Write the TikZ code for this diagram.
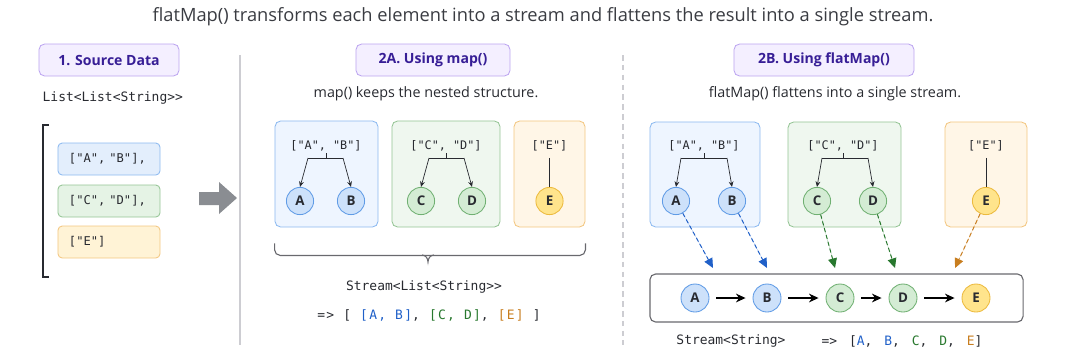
\documentclass[tikz,border=0pt]{standalone}
\usepackage{fontspec}
\setsansfont{Open Sans}
\setmonofont{DejaVu Sans Mono}
\newfontfamily\widemono{DejaVu Sans Mono}[LetterSpace=32]
\newfontfamily\semimono{DejaVu Sans Mono}[LetterSpace=10]
\usepackage{tikz}
\usetikzlibrary{shapes,arrows.meta,positioning,calc}
\definecolor{lblfill}{RGB}{244,239,255}
\definecolor{lbldraw}{RGB}{188,165,240}
\definecolor{lbltext}{RGB}{55,30,150}
\definecolor{inkdark}{RGB}{40,42,48}
\definecolor{titleink}{RGB}{58,60,66}
\definecolor{sepgray}{RGB}{205,205,210}
\definecolor{arrowgray}{RGB}{138,141,146}
\definecolor{framegray}{RGB}{105,105,110}
\definecolor{bluefill}{RGB}{238,245,255}
\definecolor{bluedraw}{RGB}{140,185,240}
\definecolor{bluesrc}{RGB}{227,238,252}
\definecolor{blueball}{RGB}{205,225,250}
\definecolor{blueballdraw}{RGB}{95,155,230}
\definecolor{greenfill}{RGB}{239,247,239}
\definecolor{greendraw}{RGB}{148,196,148}
\definecolor{greensrc}{RGB}{229,243,229}
\definecolor{greenball}{RGB}{212,236,212}
\definecolor{greenballdraw}{RGB}{112,176,114}
\definecolor{orangefill}{RGB}{255,246,231}
\definecolor{orangedraw}{RGB}{243,198,128}
\definecolor{orangesrc}{RGB}{255,243,214}
\definecolor{orangeball}{RGB}{255,228,140}
\definecolor{orangeballdraw}{RGB}{236,186,62}
\definecolor{codeblue}{RGB}{32,96,200}
\definecolor{codegreen}{RGB}{40,120,46}
\definecolor{codeorange}{RGB}{200,126,32}
\tikzset{
  lbl/.style={draw=lbldraw,fill=lblfill,rounded corners=4pt,line width=0.6pt,
              text=lbltext,font=\sffamily\bfseries\fontsize{10}{12}\selectfont,
              minimum height=0.8cm},
  remark/.style={font=\sffamily\fontsize{10.2}{12}\selectfont,text=inkdark},
  codetxt/.style={font=\ttfamily\fontsize{9.2}{11}\selectfont,text=inkdark,inner sep=1pt},
  srcbox/.style={draw,rounded corners=3pt,line width=0.6pt,
                 font=\ttfamily\fontsize{8.6}{10}\selectfont,text=inkdark,
                 text width=2.0cm,align=left,inner xsep=0.275cm,minimum height=0.8cm},
  grp/.style={draw,rounded corners=4pt,line width=0.6pt,minimum height=2.65cm},
  grptxt/.style={font=\ttfamily\fontsize{8.4}{10}\selectfont,text=inkdark,inner sep=1pt},
  ball/.style={circle,draw,line width=0.6pt,inner sep=0pt,minimum size=0.68cm,
               font=\sffamily\bfseries\fontsize{9.5}{10}\selectfont,text=inkdark},
  bA/.style={ball,fill=blueball,draw=blueballdraw},
  bC/.style={ball,fill=greenball,draw=greenballdraw},
  bE/.style={ball,fill=orangeball,draw=orangeballdraw},
  branch/.style={draw=inkdark,line width=0.5pt},
  brancharr/.style={branch,-{Stealth[length=1.4mm,width=1.2mm]}},
  flow/.style={-{Stealth[length=2.4mm,width=2.2mm]},line width=0.9pt,draw=black,
               shorten <=5pt,shorten >=5pt},
  feed/.style={dash pattern=on 3pt off 2pt,line width=0.7pt,
               -{Triangle[length=2.4mm,width=2.2mm]}},
}

\begin{document}
\begin{tikzpicture}[x=0.025cm,y=-0.025cm]
  \useasboundingbox (0,0) rectangle (1075,357);

  \node[font=\sffamily\fontsize{13}{15}\selectfont,text=titleink]
       (title) at (543,17)
       {flatMap() transforms each element into a stream and flattens the result into a single stream.};

  % separators
  \coordinate (s1top) at (240,55);
  \coordinate (s1bot) at (240,345);
  \coordinate (s2top) at (623,55);
  \coordinate (s2bot) at (623,345);
  \draw[sepgray,line width=1.2pt] (s1top) -- (s1bot);
  \draw[sepgray,line width=0.8pt,dash pattern=on 4pt off 3pt] (s2top) -- (s2bot);

  % 1. source data
  \node[lbl,minimum width=3.5cm] (lsrc) at (109,60) {1. Source Data};
  \node[codetxt,anchor=west] (tsrc) at (41,98) {List<List<String>{}>};
  \node[srcbox,fill=bluesrc,draw=bluedraw]     (srcAB) at (109,159) {["A", "B"],};
  \node[srcbox,fill=greensrc,draw=greendraw]   (srcCD) at (109,201) {["C", "D"],};
  \node[srcbox,fill=orangesrc,draw=orangedraw] (srcE)  at (109,242) {["E"]};
  \draw[inkdark,line width=0.9pt] (49,125) -- (43,125) -- (43,277) -- (49,277);
  \fill[arrowgray] (199,192) -- (219,192) -- (219,182) -- (237,198)
       -- (219,214) -- (219,205) -- (199,205) -- cycle;

  % 2A. map()
  \node[lbl,minimum width=3.85cm] (lmap) at (433,60) {2A. Using map()};
  \node[remark] (rmap) at (426,94) {map() keeps the nested structure.};
  \node[grp,fill=bluefill,draw=bluedraw,minimum width=2.575cm]     (mgA) at (326.5,174) {};
  \node[grp,fill=greenfill,draw=greendraw,minimum width=2.7cm]     (mgC) at (446,174) {};
  \node[grp,fill=orangefill,draw=orangedraw,minimum width=1.775cm] (mgE) at (549.5,174) {};
  \node[grptxt] (mtAB) at (326,146) {["A", "B"]};
  \node[grptxt] (mtCD) at (446,146) {["C", "D"]};
  \node[grptxt] (mtE)  at (549.5,146) {["E"]};
  \node[bA] (mA) at (300,201) {A};
  \node[bA] (mB) at (351,201) {B};
  \node[bC] (mC) at (421,201) {C};
  \node[bC] (mD) at (472,201) {D};
  \node[bE] (mE) at (549.5,201) {E};
  \draw[branch] (mtAB.south) -- ++(0,5) coordinate (mjAB);
  \draw[branch] ($(mA |- mjAB)+(8,0)$) coordinate (mlA) -- ($(mB |- mjAB)+(-8,0)$) coordinate (mlB);
  \draw[brancharr] (mlA) -- (mA.north);
  \draw[brancharr] (mlB) -- (mB.north);
  \draw[branch] (mtCD.south) -- ++(0,5) coordinate (mjCD);
  \draw[branch] ($(mC |- mjCD)+(8,0)$) coordinate (mlC) -- ($(mD |- mjCD)+(-8,0)$) coordinate (mlD);
  \draw[brancharr] (mlC) -- (mC.north);
  \draw[brancharr] (mlD) -- (mD.north);
  \draw[branch] ($(mtE.south)+(0,5)$) -- (mE.north);
  \draw[framegray,line width=0.8pt,rounded corners=4pt]
       ($(mgA.south west)+(0,16)$) -- ($(mgA.south west)+(0,28)$)
       -- ($(mgE.south east)+(0,28)$) -- ($(mgE.south east)+(0,16)$);
  \draw[framegray,line width=0.8pt] (422,255) to[out=0,in=90] (428,262)
       to[out=90,in=180] (434,255);
  \node[codetxt] (mtype) at (424,287) {Stream<List<String>{}>};
  \node[codetxt,font=\semimono\fontsize{9.2}{11}\selectfont] (mval) at (429,315)
       {=> [ \textcolor{codeblue}{[A, B]}, \textcolor{codegreen}{[C, D]}, \textcolor{codeorange}{[E]} ]};

  % 2B. flatMap()
  \node[lbl,minimum width=4.5cm] (lflat) at (824,60) {2B. Using flatMap()};
  \node[remark] (rflat) at (835,94) {flatMap() flattens into a single stream.};
  \node[grp,fill=bluefill,draw=bluedraw,minimum width=2.75cm,minimum height=2.625cm]     (fgA) at (705,174.5) {};
  \node[grp,fill=greenfill,draw=greendraw,minimum width=2.825cm,minimum height=2.625cm]  (fgC) at (844.5,174.5) {};
  \node[grp,fill=orangefill,draw=orangedraw,minimum width=2.05cm,minimum height=2.625cm] (fgE) at (986,174.5) {};
  \node[grptxt] (ftAB) at (704,146) {["A", "B"]};
  \node[grptxt] (ftCD) at (843,146) {["C", "D"]};
  \node[grptxt] (ftE)  at (986,146) {["E"]};
  \node[bA] (fA) at (676,201) {A};
  \node[bA] (fB) at (732,201) {B};
  \node[bC] (fC) at (817,201) {C};
  \node[bC] (fD) at (873,201) {D};
  \node[bE] (fE) at (986,201) {E};
  \draw[branch] (ftAB.south) -- ++(0,5) coordinate (fjAB);
  \draw[branch] ($(fA |- fjAB)+(5,0)$) coordinate (flA) -- ($(fB |- fjAB)+(-5,0)$) coordinate (flB);
  \draw[brancharr] (flA) -- (fA.north);
  \draw[brancharr] (flB) -- (fB.north);
  \draw[branch] (ftCD.south) -- ++(0,5) coordinate (fjCD);
  \draw[branch] ($(fC |- fjCD)+(5,0)$) coordinate (flC) -- ($(fD |- fjCD)+(-5,0)$) coordinate (flD);
  \draw[brancharr] (flC) -- (fC.north);
  \draw[brancharr] (flD) -- (fD.north);
  \draw[branch] ($(ftE.south)+(0,5)$) -- (fE.north);

  % flattened stream
  \node[draw=framegray,line width=0.8pt,rounded corners=4pt,fill=white,
        minimum width=9.325cm,minimum height=1.2cm] (strm) at (836.5,298) {};
  \node[bA,minimum size=0.7cm] (sA) at (695,298) {A};
  \node[bA,minimum size=0.7cm] (sB) at (767,298) {B};
  \node[bC,minimum size=0.7cm] (sC) at (840,298) {C};
  \node[bC,minimum size=0.7cm] (sD) at (903,298) {D};
  \node[bE,minimum size=0.7cm] (sE) at (976,298) {E};
  \draw[flow] (sA) -- (sB);
  \draw[flow] (sB) -- (sC);
  \draw[flow] (sC) -- (sD);
  \draw[flow] (sD) -- (sE);
  \coordinate (pA) at (713,268);
  \coordinate (pB) at (767,268);
  \coordinate (pC) at (835,268);
  \coordinate (pD) at (895,268);
  \coordinate (pE) at (955,268);
  \draw[feed,draw=codeblue,fill=codeblue]     (fA) -- (pA);
  \draw[feed,draw=codeblue,fill=codeblue]     (fB) -- (pB);
  \draw[feed,draw=codegreen,fill=codegreen]   (fC) -- (pC);
  \draw[feed,draw=codegreen,fill=codegreen]   (fD) -- (pD);
  \draw[feed,draw=codeorange,fill=codeorange] (fE) -- (pE);
  \node[codetxt] (stype) at (731,341) {Stream<String>};
  \node[codetxt,font=\widemono\fontsize{9.2}{11}\selectfont] (sval) at (902,341)
       {{\ttfamily =>} [\textcolor{codeblue}{A}, \textcolor{codeblue}{B}, \textcolor{codegreen}{C}, \textcolor{codegreen}{D}, \textcolor{codeorange}{E}]};
\end{tikzpicture}
\end{document}
